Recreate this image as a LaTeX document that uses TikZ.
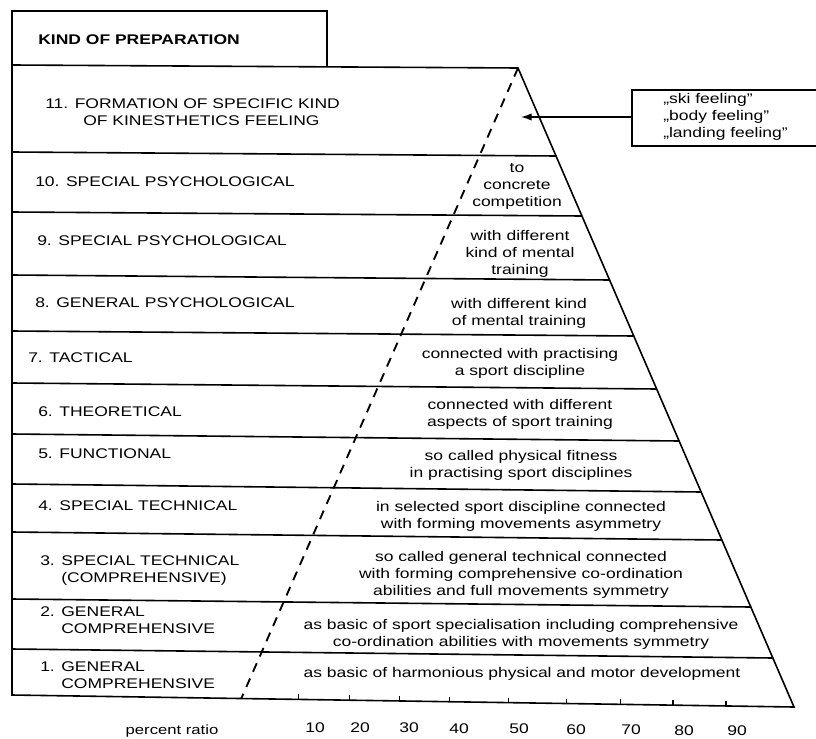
\documentclass[tikz,border=0pt]{standalone}
\usepackage{fontspec}
\setmainfont{Liberation Sans}[FakeStretch=1.25]
\usetikzlibrary{arrows.meta,calc}
\begin{document}
\begin{tikzpicture}[x=0.75pt,y=-0.75pt,
  rule/.style={line width=1.2pt,line cap=round},
  txt/.style={inner sep=0pt,text=black,font=\fontsize{10.5}{12.75}\selectfont,
    execute at begin node=\strut,execute at end node=\strut},
  ctxt/.style={txt,align=center},
  ltxt/.style={txt,align=left,anchor=west},
  axis/.style={txt,font=\fontsize{10.5}{12.75}\selectfont}]
\useasboundingbox (0,0) rectangle (816,738);

% frame coordinates
\coordinate (tl) at (12,11);
\coordinate (hr) at (327,11);
\coordinate (hb) at (327,66);
\coordinate (pl) at (12,65);
\coordinate (apex) at (518,68);
\coordinate (bl) at (12,695);
\coordinate (br) at (794,707);

% header box and outer frame
\draw[rule] (hb) -- (hr) -- (tl) -- (bl) -- (br) -- (apex) -- (pl);

% row separators
\foreach \yl/\xr/\yr in {152/556.0/156, 212/581.9/216, 275/609.6/280, 331/633.8/336,
  383/656.6/389, 434/679.1/441, 484/701.1/492, 532/721.9/540, 599/750.8/607, 649/772.8/658}
  \draw[rule] (12,\yl) -- (\xr,\yr);

% dashed ratio line
\coordinate (dbot) at ($(bl)!(252,0)!(br)$);
\draw[line width=1.4pt,dash pattern=on 7pt off 5.5pt] (apex) -- (dbot);

% ticks
\foreach \x in {309,360,410,460,519,577,631,684,737}
  \draw[line width=1pt] ($(bl)!(\x,0)!(br)$) -- ++(0,-5);

% header
\node[txt,anchor=west,font=\fontsize{10.5}{12.75}\bfseries] (hdr) at (38,41) {KIND OF PREPARATION};

% left labels
\node[ltxt] (l11) at (45,114.5) {11. FORMATION OF SPECIFIC KIND\\\hspace*{28.5pt}OF KINESTHETICS FEELING};
\node[ltxt] (l10) at (35,183) {10. SPECIAL PSYCHOLOGICAL};
\node[ltxt] (l9) at (37,242) {9. SPECIAL PSYCHOLOGICAL};
\node[ltxt] (l8) at (35,304) {8. GENERAL PSYCHOLOGICAL};
\node[ltxt] (l7) at (28,359) {7. TACTICAL};
\node[ltxt] (l6) at (38,413) {6. THEORETICAL};
\node[ltxt] (l5) at (38,455) {5. FUNCTIONAL};
\node[ltxt] (l4) at (38,507) {4. SPECIAL TECHNICAL};
\node[ltxt] (l3) at (40,572) {3. SPECIAL TECHNICAL\\\phantom{3. }(COMPREHENSIVE)};
\node[ltxt] (l2) at (40,622.5) {2. GENERAL\\\phantom{2. }COMPREHENSIVE};
\node[ltxt] (l1) at (40,678) {1. GENERAL\\\phantom{1. }COMPREHENSIVE};

% right descriptions
\node[ctxt] (r10) at (517,188) {to\\concrete\\competition};
\node[ctxt] (r9) at (520,255) {with different\\kind of mental\\training};
\node[ctxt] (r8) at (519,314) {with different kind\\of mental training};
\node[ctxt] (r7) at (520,364.5) {connected with practising\\a sport discipline};
\node[ctxt] (r6) at (520,415.5) {connected with different\\aspects of sport training};
\node[ctxt] (r5) at (521,466) {so called physical fitness\\in practising sport disciplines};
\node[ctxt] (r4) at (521,517) {in selected sport discipline connected\\with forming movements asymmetry};
\node[ctxt] (r3) at (521,575.5) {so called general technical connected\\with forming comprehensive co-ordination\\abilities and full movements symmetry};
\node[ctxt] (r2) at (521,635.5) {as basic of sport specialisation including comprehensive\\co-ordination abilities with movements symmetry};
\node[ctxt] (r1) at (522,674) {as basic of harmonious physical and motor development};

% feelings box
\node[ltxt] (feel) at (663,118) {„ski feeling”\\„body feeling”\\„landing feeling”};
\coordinate (bx1) at (816,90);
\coordinate (bx2) at (632,90);
\coordinate (bx3) at (632,146);
\coordinate (bx4) at (816,146);
\draw[line width=1.1pt] (bx1) -- (bx2) -- (bx3) -- (bx4);
\coordinate (boxl) at (632,117);
\coordinate (tip) at (521,117);
\draw[line width=1pt,-{Latex[length=8pt,width=5.5pt]}] (boxl) -- (tip);

% axis labels
\node[axis,font=\fontsize{10}{12}\selectfont] (pr) at (172,731) {percent ratio};
\foreach \x/\y/\t in {315/729/10,360/729/20,409/729/30,459/730/40,519/730/50,576/731/60,631/731/70,684/732/80,737/732/90}
  \node[axis] (n\t) at (\x,\y) {\t};
\end{tikzpicture}
\end{document}
